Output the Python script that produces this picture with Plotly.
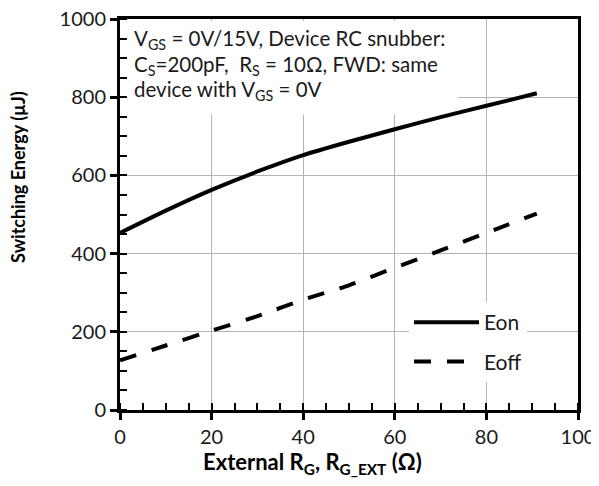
import plotly.graph_objects as go

# ── Data ──────────────────────────────────────────────────────────────────────
rg_ext = [0, 10, 20, 30, 40, 50, 60, 70, 80, 91]
e_on = [453, 510, 563, 610, 652, 686, 718, 749, 778, 810]
e_off = [127, 165, 203, 240, 282, 319, 364, 408, 453, 502]

x_ticks = [0, 20, 40, 60, 80, 100]
y_ticks = [0, 200, 400, 600, 800, 1000]

FONT = "Lato, 'Open Sans', sans-serif"
BLACK = "#000000"
TEXT = "#1a1a1a"
GRID = "#b3b3b3"

NOTE_LINES = [
    "V<sub>GS</sub> = 0V/15V, Device RC snubber:",
    "C<sub>S</sub>=200pF,  R<sub>S</sub> = 10Ω, FWD: same",
    "device with V<sub>GS</sub> = 0V",
]

fig = go.Figure()
fig.add_trace(go.Scatter(
    x=rg_ext, y=e_on, name="Eon", mode="lines", legendgroup="on",
    line=dict(color=BLACK, width=4, shape="spline", smoothing=0.6),
))
fig.add_trace(go.Scatter(
    x=rg_ext, y=e_off, name="Eoff", mode="lines", legendgroup="off",
    line=dict(color=BLACK, width=4, dash="17px,16px", shape="spline", smoothing=0.6),
))

# white box behind the note (hides the grid like the original text box)
fig.add_shape(type="rect", xref="x", yref="y", x0=0.3, x1=73.8, y0=755, y1=995,
              fillcolor="white", line_width=0, layer="between")

# one annotation per line, to keep the original line spacing
for txt, yy in zip(NOTE_LINES, [0.948, 0.882, 0.818]):
    fig.add_annotation(
        text=txt, xref="paper", yref="paper", x=0.0265, y=yy,
        xanchor="left", yanchor="middle", align="left", showarrow=False,
        font=dict(size=20.5, color=TEXT, family=FONT),
    )

# axis titles as annotations so they can sit where the original has them
fig.add_annotation(
    text="<b>Switching Energy (µJ)</b>", xref="paper", yref="paper",
    x=-0.2227, y=0.596, xanchor="center", yanchor="middle", textangle=-90,
    showarrow=False, font=dict(size=18, color=BLACK, family=FONT),
)
fig.add_annotation(
    text="<b>External R<sub>G</sub>, R<sub>G_EXT</sub> (Ω)</b>", xref="paper", yref="paper",
    x=0.421, y=-0.135, xanchor="center", yanchor="middle",
    showarrow=False, font=dict(size=22, color=BLACK, family=FONT),
)

# page body adds an 8px margin, so the plot area is offset by that much
fig.update_layout(
    width=591, height=476,
    margin=dict(l=112, r=21, t=11, b=74),
    paper_bgcolor="white", plot_bgcolor="white",
    font=dict(family=FONT, color=TEXT, size=20),
    showlegend=True,
    legend=dict(
        x=0.631, y=0.276, xanchor="left", yanchor="top",
        bgcolor="white", itemwidth=65,
        font=dict(size=21, family=FONT, color=TEXT),
        tracegroupgap=9,
    ),
)

fig.update_xaxes(
    range=[0, 100], tickvals=x_ticks, automargin=False, ticklabeloverflow="allow",
    showgrid=True, gridcolor=GRID, gridwidth=1,
    showline=True, linecolor=BLACK, linewidth=3, mirror=True,
    ticks="outside", ticklen=7, tickwidth=3, tickcolor=BLACK,
    minor=dict(dtick=5, ticks="inside", ticklen=7, tickwidth=2, tickcolor=BLACK, showgrid=False),
    zeroline=False,
    tickfont=dict(size=20, family=FONT, color=TEXT),
)
fig.update_yaxes(
    range=[0, 1000], tickvals=y_ticks, automargin=False, ticklabeloverflow="allow",
    showgrid=True, gridcolor=GRID, gridwidth=1,
    showline=True, linecolor=BLACK, linewidth=3, mirror=True,
    ticks="outside", ticklen=7, tickwidth=3, tickcolor=BLACK,
    minor=dict(dtick=50, ticks="inside", ticklen=7, tickwidth=2, tickcolor=BLACK, showgrid=False),
    zeroline=False,
    tickfont=dict(size=20, family=FONT, color=TEXT),
)

fig.write_html("out.html")
